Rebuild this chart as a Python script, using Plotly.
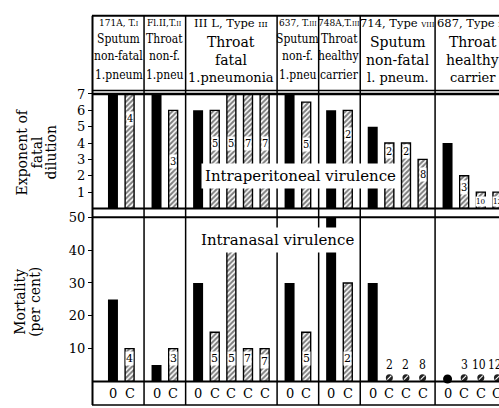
import plotly.graph_objects as go

W, H = 499, 408

# ---------------- data ----------------
group_sizes = [2, 2, 5, 2, 2, 4, 4]
header_strain = ["171A, T.<span style='font-size:7px'>I</span>",
                 "Fl.II,T.<span style='font-size:7px'>II</span>",
                 "III L, Type <span style='font-size:8px'>III</span>",
                 "637, T.<span style='font-size:7px'>III</span>",
                 "748A,T.<span style='font-size:7px'>III</span>",
                 "714, Type <span style='font-size:7px'>VIII</span>",
                 "687, Type <span style='font-size:7px'>XX</span>"]
header_source = ["Sputum", "Throat", "Throat", "Sputum", "Throat", "Sputum", "Throat"]
header_outcome = ["non-fatal", "non-f.", "fatal", "non-f.", "healthy", "non-fatal", "healthy"]
header_disease = ["1.pneum", "1.pneu", "1.pneumonia", "1.pneu", "carrier", "l. pneum.", "carrier"]

bar_kind = ["0", "C",
            "0", "C",
            "0", "C", "C", "C", "C",
            "0", "C",
            "0", "C",
            "0", "C", "C", "C",
            "0", "C", "C", "C"]
dilution_exponent = [7, 7,
                     7, 6,
                     6, 6, 7, 7, 7,
                     7, 6.5,
                     6, 6,
                     5, 4, 4, 3,
                     4, 2, 1, 1]
mortality_pct = [25, 10,
                 5, 10,
                 30, 15, 40, 10, 10,
                 30, 15,
                 50, 30,
                 30, 0, 0, 0,
                 0, 0, 0, 0]
culture_counts = ["4", "3", "5", "5", "7", "7", "5", "2", "2", "2", "8", "3", "10", "12"]

upper_title = ["Exponent of", "fatal", "dilution"]
lower_title = ["Mortality", "(per cent)"]
upper_note = "Intraperitoneal virulence"
lower_note = "Intranasal virulence"
upper_ticks = [1, 2, 3, 4, 5, 6, 7]
lower_ticks = [10, 20, 30, 40, 50]

# ---------------- layout helpers ----------------
SLOT = 16.63            # px per bar slot
X0 = 93                 # left edge of plot in px
lead = [1.2] + [0.75] * 6
trail = [0.87] + [0.75] * 6
upper_label_h = [5.5, 2.9, 4.0, 4.0, 4.0, 4.0, 3.9, 4.5, 3.5, 3.5, 2.1, 1.3, 0.45, 0.45]
lower_label_h = [7, 7, 7, 7, 7, 6, 7, 7]

xpos, bounds = [], [0.0]
cur = 0.0
for g, n in enumerate(group_sizes):
    for k in range(n):
        xpos.append(cur + lead[g] + k)
    cur += lead[g] + (n - 1) + trail[g]
    bounds.append(cur)

def pyy(p):
    return 1 - p / H

def pxx(p):
    return p / W

SERIF = "DejaVu Serif, Liberation Serif, serif"
COND = "DejaVu Serif Condensed, DejaVu Serif, serif"

fig = go.Figure()

o_idx = [i for i, k in enumerate(bar_kind) if k == "0"]
c_idx = [i for i, k in enumerate(bar_kind) if k == "C"]

hatch = dict(color="white", line=dict(color="black", width=1.4),
             pattern=dict(shape="/", fgcolor="black", bgcolor="white", size=3.6, solidity=0.55))

# upper panel
fig.add_trace(go.Bar(x=[xpos[i] for i in o_idx], y=[dilution_exponent[i] for i in o_idx],
                     width=0.6, marker=dict(color="black", line=dict(width=0)),
                     xaxis="x", yaxis="y", showlegend=False, hoverinfo="skip"))
fig.add_trace(go.Bar(x=[xpos[i] for i in c_idx], y=[dilution_exponent[i] for i in c_idx],
                     width=0.54, marker=hatch, xaxis="x", yaxis="y", showlegend=False,
                     hoverinfo="skip"))

# lower panel (non-zero bars)
lo_o = [i for i in o_idx if mortality_pct[i] > 0]
lo_c = [i for i in c_idx if mortality_pct[i] > 0]
fig.add_trace(go.Bar(x=[xpos[i] for i in lo_o], y=[mortality_pct[i] for i in lo_o],
                     width=0.6, marker=dict(color="black", line=dict(width=0)),
                     xaxis="x2", yaxis="y2", showlegend=False, hoverinfo="skip"))
fig.add_trace(go.Bar(x=[xpos[i] for i in lo_c], y=[mortality_pct[i] for i in lo_c],
                     width=0.54, marker=hatch, xaxis="x2", yaxis="y2", showlegend=False,
                     hoverinfo="skip"))

# zero mortality markers
z_o = [i for i in o_idx if mortality_pct[i] == 0]
z_c = [i for i in c_idx if mortality_pct[i] == 0]
PX_PER_PCT = (381 - 214) / 50.0
fig.add_trace(go.Scatter(x=[xpos[i] for i in z_o], y=[mortality_pct[i] + 2.5 / PX_PER_PCT for i in z_o],
                         mode="markers", marker=dict(symbol="circle", size=9, color="black"),
                         xaxis="x2", yaxis="y2", showlegend=False, cliponaxis=False,
                         hoverinfo="skip"))
fig.add_trace(go.Scatter(x=[xpos[i] for i in z_c], y=[mortality_pct[i] + 3.8 / PX_PER_PCT for i in z_c],
                         mode="markers", marker=dict(symbol="circle", size=7, color="#222"),
                         xaxis="x2", yaxis="y2", showlegend=False, cliponaxis=False,
                         hoverinfo="skip"))
fig.add_trace(go.Scatter(x=[xpos[i] for i in z_c], y=[mortality_pct[i] + 3.8 / PX_PER_PCT for i in z_c],
                         mode="markers", marker=dict(symbol="line-ne", size=4,
                                                     line=dict(color="white", width=1.1)),
                         xaxis="x2", yaxis="y2", showlegend=False, cliponaxis=False,
                         hoverinfo="skip"))

ann = []
def add_ann(**kw):
    kw.setdefault("showarrow", False)
    kw.setdefault("xanchor", "center")
    kw.setdefault("yanchor", "middle")
    ann.append(kw)

# culture counts inside hatched bars
for j, i in enumerate(c_idx):
    small = len(culture_counts[j]) > 1
    add_ann(x=xpos[i], y=upper_label_h[j], xref="x", yref="y", text=culture_counts[j],
            bgcolor="white", borderpad=0,
            font=dict(family=COND, size=8 if small else 11, color="black"))
    if mortality_pct[i] > 0:
        add_ann(x=xpos[i], y=lower_label_h[j], xref="x2", yref="y2", text=culture_counts[j],
                bgcolor="white", borderpad=0,
                font=dict(family=SERIF, size=11, color="black"))
    else:
        add_ann(x=xpos[i], y=0, xref="x2", yref="y2", text=culture_counts[j], yshift=16,
                xshift=-2 if small else 0,
                font=dict(family=COND, size=12, color="black"))

# bottom row labels
for i, k in enumerate(bar_kind):
    add_ann(x=xpos[i], y=pyy(393), xref="x", yref="paper", text=k,
            font=dict(family=SERIF, size=13, color="black"))

# headers
big = {2, 5, 6}
for g in range(len(group_sizes)):
    cx = (bounds[g] + bounds[g + 1]) / 2
    if g in big:
        rows = [(header_strain[g], 16, 11.5), (header_source[g], 36, 14),
                (header_outcome[g], 54, 14), (header_disease[g], 72, 13)]
        fam = SERIF
    else:
        rows = [(header_strain[g], 16, 10), (header_source[g], 33, 12),
                (header_outcome[g], 50, 12), (header_disease[g], 69, 12)]
        fam = COND
    for txt, yy, fs in rows:
        add_ann(x=cx, y=pyy(yy), xref="x", yref="paper", text=txt,
                font=dict(family=fam, size=fs, color="black"))

# axis titles and panel notes
for txt, xp in zip(upper_title, [22, 37, 51]):
    add_ann(x=pxx(xp), y=pyy(148), xref="paper", yref="paper", text=txt, textangle=-90,
            font=dict(family=SERIF, size=14, color="black"))
for txt, xp in zip(lower_title, [20, 35]):
    add_ann(x=pxx(xp), y=pyy(300), xref="paper", yref="paper", text=txt, textangle=-90,
            font=dict(family=SERIF, size=14, color="black"))
add_ann(x=pxx(300), y=pyy(172), xref="paper", yref="paper", text=upper_note,
        bgcolor="white", borderpad=3, font=dict(family=SERIF, size=15, color="black"))
add_ann(x=pxx(277), y=pyy(237), xref="paper", yref="paper", text=lower_note,
        bgcolor="white", borderpad=3, font=dict(family=SERIF, size=15, color="black"))

shapes = []
def hline(yp, w, x0=92):
    shapes.append(dict(type="line", xref="paper", yref="paper", x0=pxx(x0), x1=1,
                       y0=pyy(yp), y1=pyy(yp), line=dict(color="black", width=w)))
hline(9, 2)
hline(85, 1.5)
hline(88.5, 2.5)
hline(205, 2)
hline(214, 2)
hline(381, 2)
hline(405, 1.5)
shapes.append(dict(type="line", xref="paper", yref="paper", x0=pxx(92.5), x1=pxx(92.5),
                   y0=pyy(9), y1=pyy(405), line=dict(color="black", width=2)))
for b in bounds[1:-1]:
    shapes.append(dict(type="line", xref="x", yref="paper", x0=b, x1=b,
                       y0=pyy(9), y1=pyy(405), line=dict(color="black", width=1.5)))

xr = [0, (W - X0) / SLOT]
axis_off = dict(range=xr, showgrid=False, zeroline=False, showline=False,
                showticklabels=False, ticks="", domain=[X0 / W, 1], fixedrange=True)
fig.update_layout(
    width=W, height=H, autosize=False,
    margin=dict(l=0, r=0, t=0, b=0),
    paper_bgcolor="white", plot_bgcolor="rgba(0,0,0,0)",
    barmode="overlay", showlegend=False, hovermode=False,
    xaxis=dict(anchor="y", **axis_off),
    xaxis2=dict(anchor="y2", matches="x", **axis_off),
    yaxis=dict(domain=[pyy(205), pyy(88.5)], range=[0, 7], tickvals=upper_ticks,
               ticks="outside", ticklen=4, tickcolor="black", showgrid=False, zeroline=False,
               showline=False, anchor="x", fixedrange=True,
               tickfont=dict(family=SERIF, size=13, color="black")),
    yaxis2=dict(domain=[pyy(381), pyy(214)], range=[0, 50], tickvals=lower_ticks,
                ticks="outside", ticklen=4, tickcolor="black", showgrid=False, zeroline=False,
                showline=False, anchor="x2", fixedrange=True,
                tickfont=dict(family=SERIF, size=13, color="black")),
    annotations=ann, shapes=shapes,
)

fig.write_html("out.html", config={"displayModeBar": False},
               post_script="document.body.style.margin='0px';")
